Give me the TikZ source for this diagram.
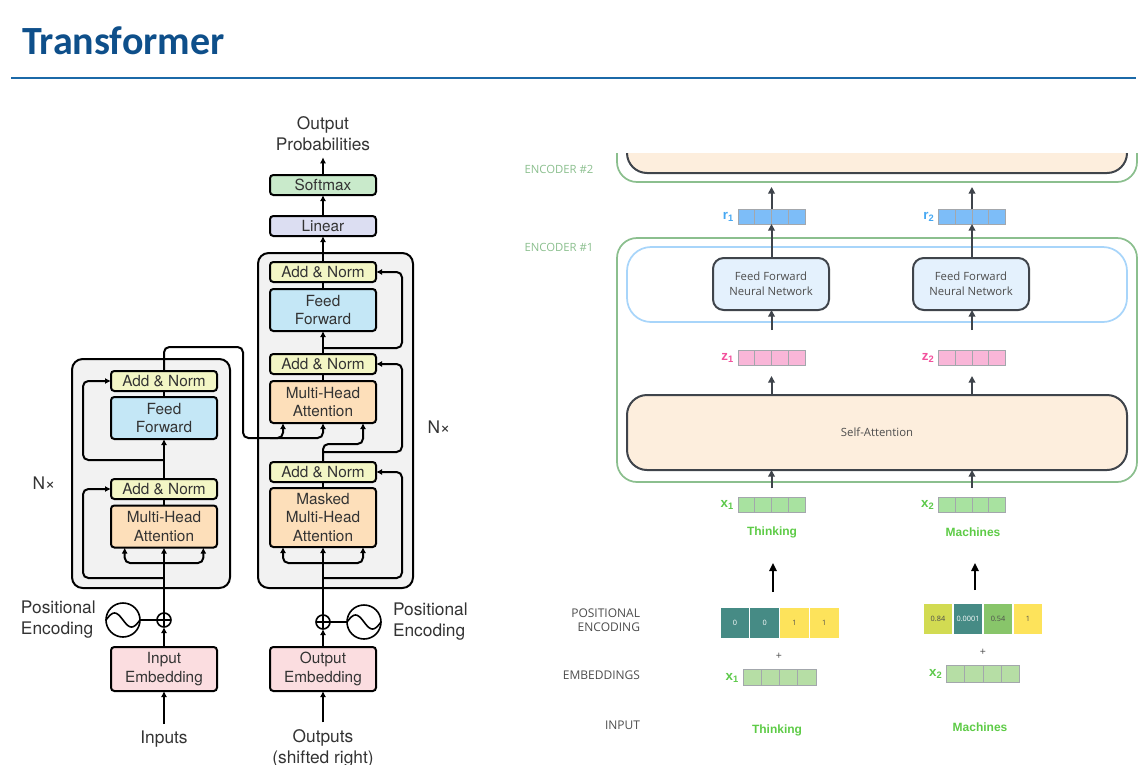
\documentclass[tikz,border=0pt]{standalone}
\usepackage{fontspec}
\setmainfont{TeX Gyre Heros}
\newfontfamily\titlefont{Carlito}
\newfontfamily\osans{Open Sans}
\newfontfamily\arialf{Liberation Sans}
\usetikzlibrary{arrows.meta,calc,positioning}

\definecolor{ttlblue}{HTML}{0E4F8A}
\definecolor{rulblue}{HTML}{1B69A8}
\definecolor{txtgray}{HTML}{333333}
\definecolor{boxgray}{HTML}{F2F2F2}
\definecolor{smgreen}{HTML}{C9EACB}
\definecolor{linpurple}{HTML}{DCDEF2}
\definecolor{anyellow}{HTML}{F3F6C5}
\definecolor{ffblue}{HTML}{C4E7F6}
\definecolor{mhorange}{HTML}{FDDFBA}
\definecolor{embpink}{HTML}{FBDDE0}
\definecolor{encgreen}{HTML}{8BBF8E}
\definecolor{ffnblue}{HTML}{A8D5FA}
\definecolor{darkline}{HTML}{3F444B}
\definecolor{beige}{HTML}{FDEEDD}
\definecolor{ffnfill}{HTML}{E4F1FD}
\definecolor{rvec}{HTML}{7DBDF8}
\definecolor{zvec}{HTML}{F9B6D8}
\definecolor{xvec}{HTML}{A8E2A0}
\definecolor{evec}{HTML}{B6DEA5}
\definecolor{rlab}{HTML}{45A7F2}
\definecolor{zlab}{HTML}{F2509C}
\definecolor{xlab}{HTML}{5DC94B}
\definecolor{wordgreen}{HTML}{5DCB46}
\definecolor{peteal}{HTML}{468B85}
\definecolor{peyellow}{HTML}{FDE35B}
\definecolor{pelime}{HTML}{D2DB52}
\definecolor{pegreen}{HTML}{88C56A}
\definecolor{cellgray}{HTML}{A3A7AC}
\definecolor{sidegray}{HTML}{4D4D4D}

% dividers of a 4-cell vector
\newcommand{\vecsplit}[1]{%
  \foreach \k in {1,2,3}
    \draw[draw=cellgray, line width=0.6pt] ($(#1.south west)!\k/4!(#1.south east)$) -- ($(#1.north west)!\k/4!(#1.north east)$);}

\begin{document}
\begin{tikzpicture}[x=0.75pt,y=-0.75pt,
    every node/.style={inner sep=0pt,outer sep=0pt},
    blk/.style={draw, line width=1.5pt, rounded corners=2.5pt, minimum width=79.5pt, minimum height=15pt,
      font=\fontsize{11.5}{14}\selectfont, text=txtgray, align=center},
    addnorm/.style={blk, fill=anyellow},
    ffwd/.style={blk, fill=ffblue, minimum height=31.5pt},
    mha/.style={blk, fill=mhorange, minimum height=31.5pt},
    emb/.style={blk, fill=embpink, minimum height=33pt},
    stackbox/.style={draw, fill=boxgray, line width=1.5pt, rounded corners=8pt},
    lbl/.style={font=\fontsize{13}{15.75}\selectfont, text=txtgray, align=center},
    ln/.style={line width=1.5pt},
    arr/.style={line width=1.5pt, rounded corners=4pt, -{Latex[length=4.5pt,width=4.5pt]}},
    plusc/.style={circle, draw, line width=1.2pt, minimum size=10.5pt,
      path picture={\draw[line width=1.2pt] (path picture bounding box.north) -- (path picture bounding box.south)
        (path picture bounding box.west) -- (path picture bounding box.east);}},
    sinec/.style={circle, draw, line width=1.2pt, minimum size=25.5pt},
    grnbox/.style={draw=encgreen, line width=1.3pt, rounded corners=15pt, minimum width=390pt},
    layerbox/.style={draw=darkline, fill=beige, line width=1.5pt, rounded corners=15pt, minimum width=375pt,
      font=\osans\fontsize{8.5}{11}\selectfont, text=sidegray},
    ffnbox/.style={draw=darkline, fill=ffnfill, line width=1.5pt, rounded corners=8pt, minimum width=87pt,
      minimum height=39pt, align=center, font=\osans\fontsize{8.5}{11.25}\selectfont, text=sidegray},
    vecbox/.style={draw=cellgray, line width=0.6pt, minimum width=50.25pt, minimum height=11.25pt},
    vlab/.style={font=\arialf\bfseries\fontsize{10}{11}\selectfont},
    word/.style={font=\arialf\bfseries\fontsize{9}{10}\selectfont, text=wordgreen},
    side/.style={font=\osans\fontsize{9}{10.5}\selectfont, text=sidegray, anchor=east, align=right},
    pecell/.style={draw=white, line width=0.6pt, minimum width=22.3pt, minimum height=23.25pt,
      font=\osans\fontsize{5.5}{6}\selectfont},
    garr/.style={line width=1.5pt, draw=darkline, -{Triangle[length=5pt,width=5pt]}},
    barr/.style={line width=1.5pt, -{Triangle[length=6pt,width=5.5pt]}}
  ]
\useasboundingbox (0,0) rectangle (1141,764);

% heading
\node[anchor=base west, font=\titlefont\bfseries\fontsize{30}{30}\selectfont, text=ttlblue] (title) at (22,54) {Transformer};
\draw[rulblue, line width=2pt] (11,78) -- (1136,78);

% ---------- model architecture ----------
\draw[stackbox] (72,359) rectangle (230,588);
\draw[stackbox] (258,253) rectangle (413,588);

% encoder
\node[addnorm] (eanT) at (164,381) {Add \& Norm};
\node[ffwd] (eff) at (164,418) {Feed\\Forward};
\node[addnorm] (eanB) at (164,489) {Add \& Norm};
\node[mha] (emha) at (164,526.5) {Multi-Head\\Attention};
\node[plusc] (eoplus) at (164,620) {};
\node[sinec] (esine) at (123,620) {};
\draw[line width=1.2pt] plot[domain=-17:17, samples=41, smooth] ({123+\x},{620+7*sin(\x*180/17)});
\node[lbl, anchor=west, align=left] (epos) at (21,620) {Positional\\Encoding};
\node[emb] (eemb) at (164,669) {Input\\Embedding};
\node[lbl] (inp) at (164,739) {Inputs};
\node[lbl] (encN) at (44,483) {N×};

% decoder
\node[lbl] (outprob) at (323,133.5) {Output\\Probabilities};
\node[blk, fill=smgreen] (softmax) at (323,185) {Softmax};
\node[blk, fill=linpurple] (linear) at (323,226) {Linear};
\node[addnorm] (danT) at (323,272) {Add \& Norm};
\node[ffwd] (dff) at (323,310) {Feed\\Forward};
\node[addnorm] (danM) at (323,364) {Add \& Norm};
\node[mha] (dmha) at (323,402) {Multi-Head\\Attention};
\node[addnorm] (danB) at (323,472) {Add \& Norm};
\node[mha, minimum height=44.25pt] (dmmha) at (323,517.5) {Masked\\Multi-Head\\Attention};
\node[plusc] (doplus) at (323,622) {};
\node[sinec] (dsine) at (364,622) {};
\draw[line width=1.2pt] plot[domain=-17:17, samples=41, smooth] ({364+\x},{622+7*sin(\x*180/17)});
\node[lbl, anchor=west, align=left] (dpos) at (393,622) {Positional\\Encoding};
\node[emb] (demb) at (323,669) {Output\\Embedding};
\node[lbl] (outs) at (323,748) {Outputs\\(shifted right)};
\node[lbl] (decN) at (439,427) {N×};

% encoder connectors
\draw[arr, shorten <=5pt] (inp) -- (eemb);
\draw[arr] (eemb) -- (eoplus);
\draw[ln] (esine) -- (eoplus);
\draw[arr] (eoplus) -- (emha);
\coordinate (ebar) at (164,563);
\draw[arr] (ebar) -| ([xshift=-29.5pt]emha.south);
\draw[arr] (ebar) -| ([xshift=29.5pt]emha.south);
\coordinate (eres1) at (164,578);
\draw[arr] (eres1) -| ([xshift=-21pt]eanB.west) -- (eanB.west);
\draw[ln] (emha) -- (eanB);
\draw[arr] (eanB) -- (eff);
\coordinate (eres2) at (164,460);
\draw[arr] (eres2) -| ([xshift=-21pt]eanT.west) -- (eanT.west);
\draw[ln] (eff) -- (eanT);
\draw[arr] (eanT.north) |- (243,347) |- (283,438) -- ([xshift=-30pt]dmha.south);
\coordinate (kvsplit) at (270,438);
\draw[arr] (kvsplit) -| (dmha.south);

% decoder connectors
\draw[arr, shorten <=5pt] (outs) -- (demb);
\draw[arr] (demb) -- (doplus);
\draw[ln] (dsine) -- (doplus);
\draw[arr] (doplus) -- (dmmha);
\coordinate (dbar) at (323,563);
\draw[arr] (dbar) -| ([xshift=-30pt]dmmha.south);
\draw[arr] (dbar) -| ([xshift=30pt]dmmha.south);
\coordinate (dres1) at (323,578);
\draw[arr] (dres1) -| ([xshift=19.5pt]danB.east) -- (danB.east);
\draw[ln] (dmmha) -- (danB);
\draw[arr] (danB.north) |- (363,444) -- ([xshift=30pt]dmha.south);
\coordinate (dres2) at (323,452);
\draw[arr] (dres2) -| ([xshift=19.5pt]danM.east) -- (danM.east);
\draw[ln] (dmha) -- (danM);
\draw[arr] (danM) -- (dff);
\coordinate (dres3) at (323,348);
\draw[arr] (dres3) -| ([xshift=19.5pt]danT.east) -- (danT.east);
\draw[ln] (dff) -- (danT);
\draw[arr] (danT) -- (linear);
\draw[arr] (linear) -- (softmax);
\draw[arr, shorten >=5pt] (softmax) -- (outprob);

% ---------- encoder walk-through ----------
\begin{scope}
  \clip (600,153) rectangle (1141,764);
  \node[grnbox, minimum height=93pt] (enc2) at (877,120) {};
  \node[layerbox, minimum height=79.5pt] (enc2sa) at (877,120) {};
\end{scope}
\node[font=\osans\fontsize{8.5}{10}\selectfont, text=encgreen] (enc2lbl) at (559,169) {ENCODER \#2};
\node[font=\osans\fontsize{8.5}{10}\selectfont, text=encgreen] (enc1lbl) at (559,247) {ENCODER \#1};

\node[grnbox, minimum height=183pt] (enc1) at (877,360) {};
\node[draw=ffnblue, line width=1.3pt, rounded corners=18pt, minimum width=375pt, minimum height=56.25pt] (ffnlayer) at (877,284.5) {};
\node[ffnbox] (ff1) at (771,284) {Feed Forward\\Neural Network};
\node[ffnbox] (ff2) at (971,284) {Feed Forward\\Neural Network};
\node[layerbox, minimum height=56.25pt] (sa) at (877,432.5) {Self-Attention};

% vectors
\node[vecbox, fill=rvec] (r1) at (771.5,216.5) {}; \vecsplit{r1}
\node[vecbox, fill=rvec] (r2) at (972,216.5) {}; \vecsplit{r2}
\node[vecbox, fill=zvec] (z1) at (771.5,357.5) {}; \vecsplit{z1}
\node[vecbox, fill=zvec] (z2) at (972,357.5) {}; \vecsplit{z2}
\node[vecbox, fill=xvec] (x1) at (771.5,504.5) {}; \vecsplit{x1}
\node[vecbox, fill=xvec] (x2) at (972,504.5) {}; \vecsplit{x2}
\node[vlab, text=rlab, left=3pt of r1] (r1lbl) {r\textsubscript{1}};
\node[vlab, text=rlab, left=3pt of r2] (r2lbl) {r\textsubscript{2}};
\node[vlab, text=zlab, left=3pt of z1] (z1lbl) {z\textsubscript{1}};
\node[vlab, text=zlab, left=3pt of z2] (z2lbl) {z\textsubscript{2}};
\node[vlab, text=xlab, left=3pt of x1] (x1lbl) {x\textsubscript{1}};
\node[vlab, text=xlab, left=3pt of x2] (x2lbl) {x\textsubscript{2}};
\node[word] (thk1) at (772,532) {Thinking};
\node[word] (mch1) at (973,532) {Machines};

% flow through the encoders
\draw[garr] ([yshift=6.75pt]x1.north) -- (x1.north |- sa.south);
\draw[garr] ([yshift=6.75pt]x2.north) -- (x2.north |- sa.south);
\draw[garr, shorten >=8.25pt] (z1.south |- sa.north) -- (z1.south);
\draw[garr, shorten >=8.25pt] (z2.south |- sa.north) -- (z2.south);
\draw[garr] ([yshift=15pt]z1.north) -- (z1.north |- ff1.south);
\draw[garr] ([yshift=15pt]z2.north) -- (z2.north |- ff2.south);
\draw[garr] (r1.south |- ff1.north) -- (r1.south);
\draw[garr] (r2.south |- ff2.north) -- (r2.south);
\draw[garr, shorten >=3.75pt] (r1.north) -- (r1.north |- enc2.south);
\draw[garr, shorten >=3.75pt] (r2.north) -- (r2.north |- enc2.south);

% positional encoding example
\coordinate (up1s) at (773,592); \coordinate (up1e) at (773,563);
\coordinate (up2s) at (975,590); \coordinate (up2e) at (975,563);
\draw[barr] (up1s) -- (up1e);
\draw[barr] (up2s) -- (up2e);

\node[side] (poslbl) at (640,620) {POSITIONAL\\ENCODING};
\node[side] (emblbl) at (640,675) {EMBEDDINGS};
\node[side] (inlbl) at (640,725) {INPUT};

\foreach \c/\v/\t [count=\i] in {peteal/0/white, peteal/0/white, peyellow/1/sidegray, peyellow/1/sidegray}
  \node[pecell, fill=\c, text=\t] (pe1\i) at ({720+29.75*(\i-0.5)},622.5) {\v};
\foreach \c/\v/\t [count=\i] in {pelime/0.84/sidegray, peteal/0.0001/white, pegreen/0.54/sidegray, peyellow/1/sidegray}
  \node[pecell, fill=\c, text=\t] (pe2\i) at ({923+30*(\i-0.5)},618.5) {\v};

\node[font=\osans\fontsize{8}{9}\selectfont, text=sidegray] (plus1) at (779,656) {+};
\node[font=\osans\fontsize{8}{9}\selectfont, text=sidegray] (plus2) at (983,652) {+};

\node[vecbox, fill=evec, minimum width=54.75pt, minimum height=12.5pt] (e1) at (779.5,677.5) {}; \vecsplit{e1}
\node[vecbox, fill=evec, minimum width=54.75pt, minimum height=12.5pt] (e2) at (983,674) {}; \vecsplit{e2}
\node[vlab, text=xlab, left=3pt of e1] (e1lbl) {x\textsubscript{1}};
\node[vlab, text=xlab, left=3pt of e2] (e2lbl) {x\textsubscript{2}};
\node[word] (thk2) at (777,730) {Thinking};
\node[word] (mch2) at (980,727) {Machines};
\end{tikzpicture}
\end{document}
